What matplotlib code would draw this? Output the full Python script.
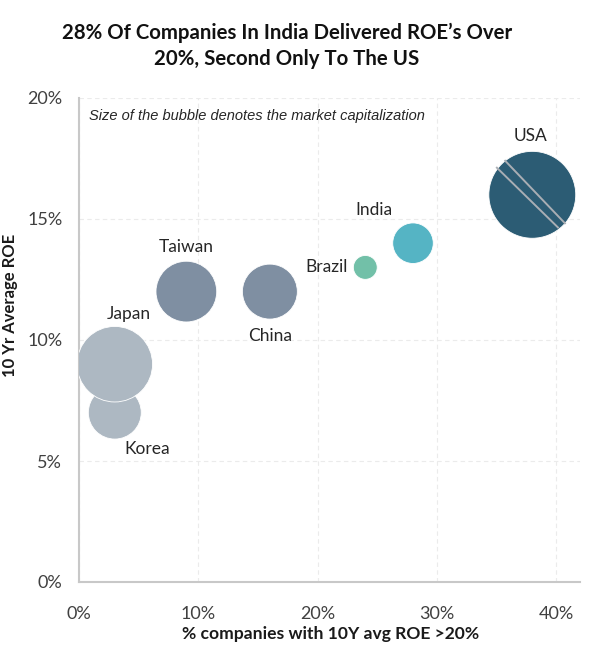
import matplotlib
matplotlib.use("Agg")
import matplotlib.pyplot as plt
import matplotlib.transforms as mtransforms
from matplotlib.ticker import FuncFormatter

# ---- data ----
countries = ["USA", "India", "Brazil", "China", "Taiwan", "Korea", "Japan"]
pct_companies_roe20 = [38, 28, 24, 16, 9, 3, 3]        # x, %
avg_roe_10y = [16, 14, 13, 12, 12, 7, 9]                 # y, %
market_cap = [45, 9.8, 3.4, 18, 22, 16.7, 34]            # relative bubble size
colors = ["#2C5C74", "#55B4C4", "#72C0A8", "#7F8FA2", "#7F8FA2", "#ADB8C2", "#ADB8C2"]
x_ticks = [0, 10, 20, 30, 40]
y_ticks = [0, 5, 10, 15, 20]

# label offsets (points) relative to bubble centres
label_offsets = {"USA": (-1, 42), "India": (-28, 24), "Brazil": (-28, 0),
                 "China": (0, -32), "Taiwan": (0, 32), "Korea": (23, -26),
                 "Japan": (10, 36)}

plt.rcParams["font.family"] = ["Lato", "DejaVu Sans"]

fig = plt.figure(figsize=(5.9, 6.49), dpi=100)
ax = fig.add_axes([79/590, 1-582/649, (580-79)/590, (582-98)/649])

ax.set_xlim(0, 42)
ax.set_ylim(0, 20)

ax.scatter(pct_companies_roe20, avg_roe_10y, s=[m*87 for m in market_cap],
           c=colors, edgecolors="white", linewidths=0.6, zorder=3)

for name, x, y in zip(countries, pct_companies_roe20, avg_roe_10y):
    dx, dy = label_offsets[name]
    ax.annotate(name, (x, y), xytext=(dx, dy), textcoords="offset points",
                ha="center", va="center", fontsize=12.5, color="#262626", zorder=4)

# decorative double line across the USA bubble
i = countries.index("USA")
tr = mtransforms.Affine2D().scale(fig.dpi/72) + mtransforms.ScaledTranslation(
    pct_companies_roe20[i], avg_roe_10y[i], ax.transData)
for (x0, y0, x1, y1) in [(-26, 20, 19, -24), (-20, 25, 24, -21)]:
    ax.plot([x0, x1], [y0, y1], transform=tr, color="#A9AEB4", lw=1.4, zorder=5,
            solid_capstyle="butt")

ax.set_xticks(x_ticks)
ax.set_yticks(y_ticks)
fmt = FuncFormatter(lambda v, p: f"{v:.0f}%")
ax.xaxis.set_major_formatter(fmt)
ax.yaxis.set_major_formatter(fmt)
ax.tick_params(axis="both", length=0, labelsize=13, colors="#404040")
ax.tick_params(axis="x", pad=17)
ax.tick_params(axis="y", pad=12)

ax.grid(True, color="#EBEBEB", linestyle=(0, (4, 3)), linewidth=0.8, zorder=0)
ax.set_axisbelow(True)
for s in ["top", "right"]:
    ax.spines[s].set_visible(False)
for s in ["left", "bottom"]:
    ax.spines[s].set_color("#C8C8C8")
    ax.spines[s].set_linewidth(1.5)

fig.text(331/590, 1-634/649, "% companies with 10Y avg ROE >20%", ha="center", va="center",
         fontsize=12.6, fontweight="bold", color="#1a1a1a")
fig.text(10/590, 1-305/649, "10 Yr Average ROE", rotation=90, ha="center", va="center",
         fontsize=12, fontweight="bold", color="#1a1a1a")

ax.text(0.02, 0.962, "Size of the bubble denotes the market capitalization",
        transform=ax.transAxes, fontsize=10.5, style="italic", family="Liberation Sans",
        color="#262626", ha="left", va="center")

fig.text(287/590, 1-46/649, "28% Of Companies In India Delivered ROE\u2019s Over\n20%, Second Only To The US",
         ha="center", va="center", fontsize=14.7, fontweight="bold", color="#111111",
         linespacing=1.35)

fig.savefig("out.png", dpi=100, facecolor="white")
